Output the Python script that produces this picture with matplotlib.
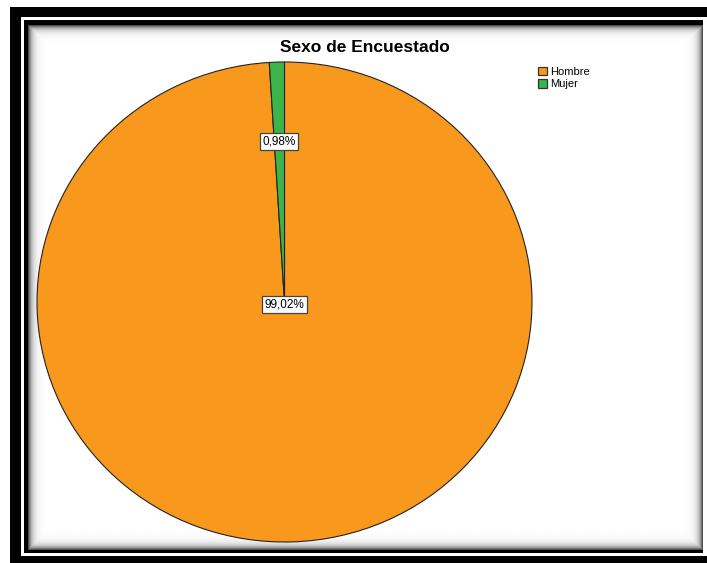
import numpy as np
import matplotlib.pyplot as plt
from matplotlib.patches import Rectangle, Patch

# Respondent sex distribution (%)
categories = ['Hombre', 'Mujer']
percentages = [99.02, 0.98]
colors = ['#F8991D', '#3BB54A']
title = 'Sexo de Encuestado'

W, H = 707, 563
fig = plt.figure(figsize=(W / 100, H / 100), dpi=100)
fig.patch.set_facecolor('white')


def px_rect(x0, y0, x1, y1, color, z):
    # rectangle given in pixel coords measured from the top-left corner
    fig.patches.append(Rectangle((x0 / W, 1 - y1 / H), (x1 - x0) / W, (y1 - y0) / H,
                                 transform=fig.transFigure, facecolor=color,
                                 edgecolor='none', zorder=z))


# double black frame
px_rect(10, 7, 712, 570, 'black', 0)
px_rect(21, 17, 707, 556, 'white', 1)
px_rect(24, 20, 703, 553, 'black', 2)

# inner panel with a soft shadow along the edges
cx0, cy0, cx1, cy1 = 28, 25, 702, 550
bg = fig.add_axes([cx0 / W, 1 - cy1 / H, (cx1 - cx0) / W, (cy1 - cy0) / H], zorder=3)
nx, ny = cx1 - cx0, cy1 - cy0
xx = np.arange(nx)[None, :]
yy = np.arange(ny)[:, None]
d = np.minimum(np.minimum(xx, nx - 1 - xx), np.minimum(yy, ny - 1 - yy))
shade = 1 - 0.7 * np.exp(-d / 3.5)
bg.imshow(shade, cmap='gray', vmin=0, vmax=1, aspect='auto', interpolation='bilinear')
bg.axis('off')

# pie (slightly wider than tall)
px0, py0, px1, py1 = 37, 62, 532, 542
ax = fig.add_axes([px0 / W, 1 - py1 / H, (px1 - px0) / W, (py1 - py0) / H], zorder=4)
ax.patch.set_alpha(0)
wedges, _ = ax.pie(percentages, colors=colors, startangle=90, counterclock=False,
                   wedgeprops=dict(edgecolor='#222222', linewidth=0.8))
ax.set_aspect('auto')
ax.set_xlim(-1, 1)
ax.set_ylim(-1, 1)
ax.axis('off')

label_r = [0.01, 0.67]
for w, pct, r in zip(wedges, percentages, label_r):
    ang = np.deg2rad((w.theta1 + w.theta2) / 2)
    ax.text(r * np.cos(ang), r * np.sin(ang), f'{pct:.2f}%'.replace('.', ','),
            ha='center', va='center', fontsize=8.5, family='Liberation Sans',
            bbox=dict(boxstyle='square,pad=0.2', facecolor='white',
                      edgecolor='#444444', linewidth=0.9), zorder=5)

fig.text(365 / W, 1 - 47 / H, title, ha='center', va='center', fontsize=12.5,
         fontweight='bold', family='Liberation Sans', zorder=6)

handles = [Patch(facecolor=c, edgecolor='#333333', linewidth=0.9) for c in colors]
leg = fig.legend(handles, categories, loc='upper left',
                 bbox_to_anchor=(530 / W, 1 - 59 / H), frameon=False,
                 prop={'family': 'Liberation Sans', 'size': 8},
                 handlelength=0.8, handleheight=0.8, handletextpad=0.3,
                 labelspacing=0.2, borderpad=0.2)
leg.set_zorder(6)

fig.savefig('out.png', dpi=100)
